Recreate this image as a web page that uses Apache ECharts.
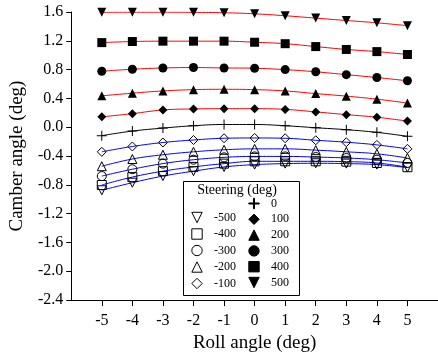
<!DOCTYPE html>
<html>
<head>
<meta charset="utf-8">
<script src="https://cdn.jsdelivr.net/npm/echarts@6/dist/echarts.min.js"></script>
<style>html,body{margin:0;padding:0;background:#fff;}#c{width:438px;height:358px;}</style>
</head>
<body>
<div id="c"></div>
<script>
const rollAngles = [-5, -4, -3, -2, -1, 0, 1, 2, 3, 4, 5];
const yTicks = [-2.4, -2.0, -1.6, -1.2, -0.8, -0.4, 0.0, 0.4, 0.8, 1.2, 1.6];
const steeringNames = ['-500', '-400', '-300', '-200', '-100', '0', '100', '200', '300', '400', '500'];

const camberM500 = [-0.875, -0.770, -0.678, -0.610, -0.551, -0.519, -0.505, -0.500, -0.505, -0.519, -0.560];
const camberM400 = [-0.802, -0.692, -0.610, -0.551, -0.505, -0.473, -0.473, -0.473, -0.478, -0.496, -0.555];
const camberM300 = [-0.678, -0.583, -0.505, -0.451, -0.418, -0.405, -0.405, -0.414, -0.427, -0.451, -0.496];
const camberM200 = [-0.541, -0.441, -0.382, -0.341, -0.313, -0.300, -0.300, -0.318, -0.341, -0.369, -0.427];
const camberM100 = [-0.341, -0.267, -0.212, -0.177, -0.153, -0.149, -0.153, -0.181, -0.208, -0.245, -0.300];
const camber0    = [-0.117, -0.053, -0.012, 0.021, 0.038, 0.038, 0.021, -0.007, -0.034, -0.071, -0.126];
const camber100  = [0.144, 0.189, 0.240, 0.254, 0.258, 0.258, 0.248, 0.213, 0.175, 0.139, 0.085];
const camber200  = [0.436, 0.473, 0.504, 0.522, 0.527, 0.522, 0.504, 0.467, 0.432, 0.390, 0.336];
const camber300  = [0.778, 0.805, 0.823, 0.829, 0.823, 0.819, 0.800, 0.770, 0.730, 0.690, 0.645];
const camber400  = [1.175, 1.190, 1.195, 1.195, 1.195, 1.180, 1.160, 1.120, 1.080, 1.050, 1.010];
const camber500  = [1.595, 1.597, 1.597, 1.595, 1.590, 1.575, 1.548, 1.515, 1.482, 1.450, 1.410];

const seriesValues = [camberM500, camberM400, camberM300, camberM200, camberM100, camber0,
                      camber100, camber200, camber300, camber400, camber500];

const FONT = '"Liberation Serif", "DejaVu Serif", serif';
const TRI_DOWN = 'path://M0,0L10,0L5,8.66Z';
const PLUS = 'path://M4.5,0H5.5V4.5H10V5.5H5.5V10H4.5V5.5H0V4.5H4.5Z';
const symbols = [TRI_DOWN, 'rect', 'circle', 'triangle', 'diamond', PLUS,
                 'diamond', 'triangle', 'circle', 'rect', TRI_DOWN];
const sizes = [9, 9, 9, 9, 9, 10, 9, 9, 9, 9, 9];

function build(i) {
  const v = Number(steeringNames[i]);
  const lineColor = v > 0 ? '#ff0000' : (v < 0 ? '#0000ff' : '#000000');
  const open = v < 0;
  return {
    name: steeringNames[i],
    type: 'line',
    smooth: 0.4,
    symbol: symbols[i],
    symbolSize: sizes[i],
    data: rollAngles.map((x, k) => [x, seriesValues[i][k]]),
    lineStyle: { color: lineColor, width: 1 },
    itemStyle: open
      ? { color: 'rgba(255,255,255,0)', borderColor: '#000', borderWidth: 1 }
      : { color: '#000', borderColor: '#000', borderWidth: 0 },
    emphasis: { disabled: true },
    z: open ? 3 : 2
  };
}

const legendCommon = {
  orient: 'vertical',
  padding: 0,
  itemWidth: 24,
  itemHeight: 13,
  selectedMode: false,
  z: 30,
  textStyle: { fontFamily: FONT, fontSize: 12, color: '#000' },
  lineStyle: { color: 'rgba(0,0,0,0)', opacity: 0 },
  itemStyle: { borderWidth: 1 }
};

const chart = echarts.init(document.getElementById('c'), null, { renderer: 'canvas' });
chart.setOption({
  animation: false,
  backgroundColor: '#fff',
  grid: { left: 71, right: -5, top: 12, bottom: 54, containLabel: false },
  xAxis: {
    type: 'value',
    min: -6, max: 6, interval: 1,
    name: 'Roll angle (deg)',
    nameLocation: 'middle',
    nameGap: 31,
    nameTextStyle: { fontFamily: FONT, fontSize: 19, color: '#000' },
    axisLine: { show: true, onZero: false, lineStyle: { color: '#000', width: 1 } },
    axisTick: { show: true, inside: false, length: 6, lineStyle: { color: '#000' }, customValues: rollAngles },
    axisLabel: { fontFamily: FONT, fontSize: 16, color: '#000', margin: 13, customValues: rollAngles,
                 formatter: v => String(v) },
    splitLine: { show: false }
  },
  yAxis: {
    type: 'value',
    min: yTicks[0], max: yTicks[yTicks.length - 1], interval: 0.4,
    name: 'Camber angle (deg)',
    nameLocation: 'middle',
    nameGap: 41,
    nameRotate: 90,
    nameTextStyle: { fontFamily: FONT, fontSize: 19, color: '#000' },
    axisLine: { show: true, onZero: false, lineStyle: { color: '#000', width: 1 } },
    axisTick: { show: true, inside: false, length: 5, lineStyle: { color: '#000' } },
    axisLabel: { fontFamily: FONT, fontSize: 16, color: '#000', margin: 8,
                 formatter: v => v.toFixed(1) },
    splitLine: { show: false }
  },
  legend: [
    Object.assign({}, legendCommon, {
      left: 184, top: 211.5, itemGap: 4.5,
      data: ['-500', '-400', '-300', '-200', '-100']
    }),
    Object.assign({}, legendCommon, {
      left: 241, top: 197.5, itemGap: 3.8,
      data: ['0', '100', '200', '300', '400', '500']
    })
  ],
  graphic: [
    { type: 'rect', shape: { x: 183.5, y: 181.5, width: 116, height: 114 },
      style: { fill: '#fff', stroke: '#000', lineWidth: 1 }, z: 10 },
    { type: 'text', x: 237, y: 190,
      style: { text: 'Steering (deg)', fontFamily: FONT, fontSize: 14, fill: '#000',
               align: 'center', verticalAlign: 'middle' }, z: 11 }
  ],
  series: steeringNames.map((_, i) => build(i))
});
</script>
</body>
</html>
